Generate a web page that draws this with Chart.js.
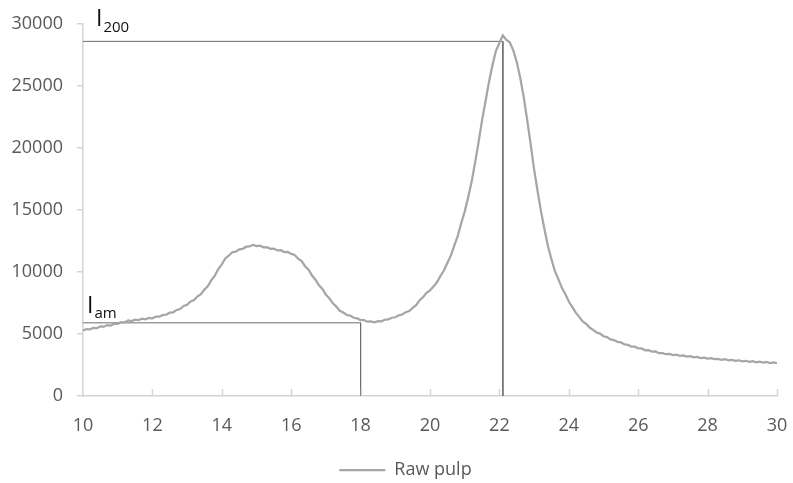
<!DOCTYPE html>
<html>
<head>
<meta charset="utf-8">
<script src="https://cdn.jsdelivr.net/npm/chart.js@4/dist/chart.umd.min.js"></script>
<style>
html,body{margin:0;padding:0;background:#fff;}
#wrap{width:793px;height:483px;position:relative;}
</style>
</head>
<body>
<div id="wrap"><canvas id="c" width="793" height="483"></canvas></div>
<script>
const seriesName = 'Raw pulp';
const twoTheta = [
10.0,10.1,10.2,10.3,10.4,10.5,10.6,10.7,10.8,10.9,
11.0,11.1,11.2,11.3,11.4,11.5,11.6,11.7,11.8,11.9,
12.0,12.1,12.2,12.3,12.4,12.5,12.6,12.7,12.8,12.9,
13.0,13.1,13.2,13.3,13.4,13.5,13.6,13.7,13.8,13.9,
14.0,14.1,14.2,14.3,14.4,14.5,14.6,14.7,14.8,14.9,
15.0,15.1,15.2,15.3,15.4,15.5,15.6,15.7,15.8,15.9,
16.0,16.1,16.2,16.3,16.4,16.5,16.6,16.7,16.8,16.9,
17.0,17.1,17.2,17.3,17.4,17.5,17.6,17.7,17.8,17.9,
18.0,18.1,18.2,18.3,18.4,18.5,18.6,18.7,18.8,18.9,
19.0,19.1,19.2,19.3,19.4,19.5,19.6,19.7,19.8,19.9,
20.0,20.1,20.2,20.3,20.4,20.5,20.6,20.7,20.8,20.9,
21.0,21.1,21.2,21.3,21.4,21.5,21.6,21.7,21.8,21.9,
22.0,22.1,22.2,22.3,22.4,22.5,22.6,22.7,22.8,22.9,
23.0,23.1,23.2,23.3,23.4,23.5,23.6,23.7,23.8,23.9,
24.0,24.1,24.2,24.3,24.4,24.5,24.6,24.7,24.8,24.9,
25.0,25.1,25.2,25.3,25.4,25.5,25.6,25.7,25.8,25.9,
26.0,26.1,26.2,26.3,26.4,26.5,26.6,26.7,26.8,26.9,
27.0,27.1,27.2,27.3,27.4,27.5,27.6,27.7,27.8,27.9,
28.0,28.1,28.2,28.3,28.4,28.5,28.6,28.7,28.8,28.9,
29.0,29.1,29.2,29.3,29.4,29.5,29.6,29.7,29.8,29.9,
30.0];
const intensity = [
5290,5400,5380,5500,5470,5620,5590,5720,5680,5830,
5820,5950,5930,6100,6040,6160,6120,6230,6190,6290,
6270,6410,6400,6540,6560,6720,6750,6940,7010,7260,
7360,7620,7730,8040,8210,8580,8860,9340,9710,10240,
10610,11090,11310,11590,11640,11820,11860,12040,12060,12190,
12090,12120,11990,12010,11870,11890,11740,11760,11610,11620,
11460,11380,11070,10880,10470,10180,9720,9380,8920,8630,
8170,7880,7470,7210,6870,6730,6530,6490,6310,6260,
6120,6110,5990,6020,5950,6030,6020,6150,6170,6310,
6350,6510,6570,6750,6850,7110,7320,7730,7970,8330,
8520,8830,9170,9680,10120,10730,11320,12130,12920,13930,
14870,16030,17270,18830,20470,22230,23770,25330,26670,27830,
28470,29080,28720,28530,27870,26930,25670,24130,22270,20330,
18270,16530,14870,13430,12070,11030,10070,9430,8720,8230,
7620,7180,6720,6380,6020,5810,5520,5330,5120,5030,
4820,4750,4570,4510,4370,4330,4170,4130,3990,3980,
3850,3840,3690,3700,3570,3590,3450,3450,3370,3390,
3300,3340,3240,3280,3180,3210,3120,3160,3060,3100,
3010,3060,2970,3000,2920,2980,2870,2910,2830,2880,
2790,2840,2750,2800,2710,2770,2690,2740,2660,2710,
2650];
// marker lines: I200 (crystalline peak) and Iam (amorphous minimum)
const i200X = [10, 22.1, 22.1];
const i200Y = [28600, 28600, 0];
const iamX = [10, 18, 18];
const iamY = [5900, 5900, 0];
const xTicks = [10,12,14,16,18,20,22,24,26,28,30];
const yTicks = [0,5000,10000,15000,20000,25000,30000];

const curve = twoTheta.map((x,i)=>({x:x,y:intensity[i]}));
const lineI200 = i200X.map((x,i)=>({x:x,y:i200Y[i]}));
const lineIam = iamX.map((x,i)=>({x:x,y:iamY[i]}));

const FONT = "'Open Sans', 'Liberation Sans', sans-serif";
const AXIS_COL = '#d4d4d4';

const decor = {
  id:'decor',
  afterLayout(chart){
    if (chart.legend) { chart.legend.left += 17; chart.legend.right += 17; }
  },
  afterDraw(chart){
    const ctx = chart.ctx, xs = chart.scales.x, ys = chart.scales.y, ca = chart.chartArea;
    ctx.save();
    // inward x tick marks
    ctx.strokeStyle = AXIS_COL; ctx.lineWidth = 1.5;
    xTicks.forEach(v=>{
      if (v === xTicks[0]) return;
      const px = Math.round(xs.getPixelForValue(v)) + 0.5;
      ctx.beginPath(); ctx.moveTo(px, ca.bottom); ctx.lineTo(px, ca.bottom - 7); ctx.stroke();
    });
    // labels
    ctx.fillStyle = '#111';
    ctx.textBaseline = 'alphabetic';
    ctx.font = "23px " + FONT;
    ctx.fillText('I', ca.left + 13, ca.top + 2);
    let w = ctx.measureText('I').width;
    ctx.font = "15px " + FONT;
    ctx.fillText('200', ca.left + 13 + w + 1, ca.top + 8);
    ctx.font = "23px " + FONT;
    const yIam = ys.getPixelForValue(iamY[0]) - 10;
    ctx.fillText('I', ca.left + 4, yIam);
    w = ctx.measureText('I').width;
    ctx.font = "15px " + FONT;
    ctx.fillText('am', ca.left + 4 + w + 1, yIam + 5);
    ctx.restore();
  }
};

new Chart(document.getElementById('c'), {
  type:'line',
  data:{
    datasets:[
      {label:seriesName, data:curve, borderColor:'#a6a6a6', backgroundColor:'#a6a6a6', borderWidth:2.25, pointRadius:0, tension:0},
      {label:'I200', data:lineI200, borderColor:'#6e6e6e', borderWidth:1, pointRadius:0, tension:0},
      {label:'Iam', data:lineIam, borderColor:'#6e6e6e', borderWidth:1, pointRadius:0, tension:0}
    ]
  },
  options:{
    responsive:false,
    animation:false,
    layout:{padding:{top:24,right:16,bottom:-6,left:0}},
    scales:{
      x:{
        type:'linear', min:10, max:30,
        afterBuildTicks(s){ s.ticks = xTicks.map(v=>({value:v})); },
        afterFit(s){ s.height = 60; s.paddingLeft = 0; s.paddingRight = 0; },
        grid:{display:true, drawOnChartArea:false, drawTicks:false},
        border:{display:true, color:AXIS_COL, width:1.5},
        ticks:{padding:19, color:'#595959', font:{family:FONT, size:18}, maxRotation:0, callback:(v)=>String(v)}
      },
      y:{
        type:'linear', min:0, max:30000,
        afterBuildTicks(s){ s.ticks = yTicks.map(v=>({value:v})); },
        afterFit(s){ s.width = 83; s.paddingTop = 0; s.paddingBottom = 0; },
        grid:{display:true, drawOnChartArea:false, drawTicks:true, tickLength:6, color:AXIS_COL, tickColor:AXIS_COL, lineWidth:1.5},
        border:{display:true, color:AXIS_COL, width:1.5},
        ticks:{padding:14, color:'#595959', font:{family:FONT, size:18}, callback:(v)=>String(v)}
      }
    },
    plugins:{
      legend:{
        position:'bottom',
        labels:{
          filter:(item)=>item.text===seriesName,
          usePointStyle:true, pointStyle:'line', pointStyleWidth:46,
          padding:5, color:'#595959', font:{family:FONT, size:18}
        }
      },
      tooltip:{enabled:false}
    }
  },
  plugins:[decor]
});
</script>
</body>
</html>
